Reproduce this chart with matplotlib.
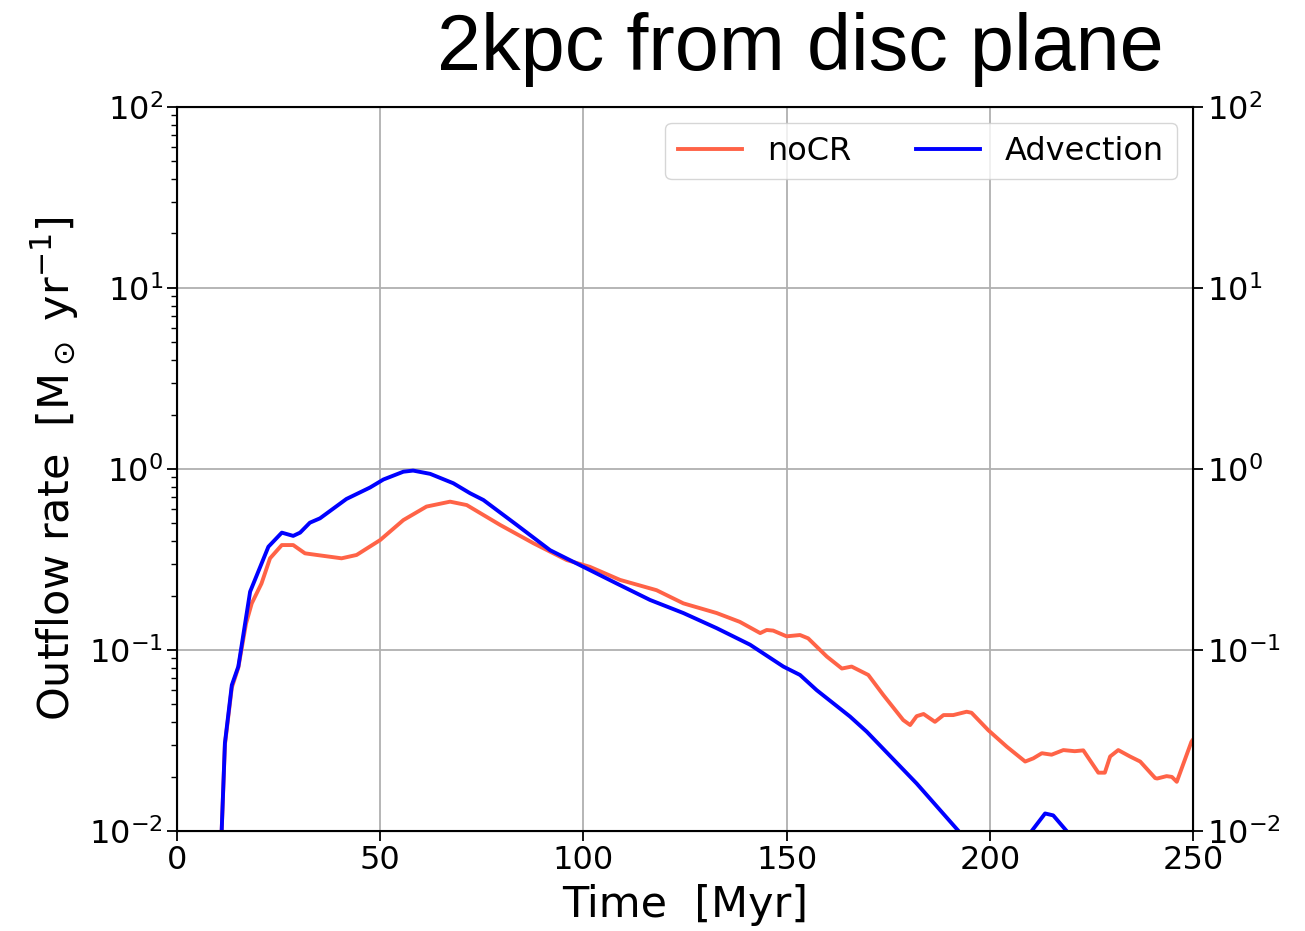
import numpy as np
import matplotlib
matplotlib.use('Agg')
import matplotlib.pyplot as plt
from matplotlib.ticker import NullLocator, LogLocator

# outflow rate through the 2 kpc surface [Msun/yr]
t_nocr = [10.5, 11.0, 11.8, 13.5, 15.1, 17.0, 18.4, 20.8, 22.9, 25.8, 28.6, 31.5,
          34.4, 40.5, 44.2, 50.0, 55.7, 61.4, 67.2, 71.3, 79.5, 87.7, 95.9, 101.6,
          109.0, 118.0, 124.6, 132.8, 138.5, 143.5, 145.1, 146.7, 150.0, 153.3,
          155.3, 159.9, 163.6, 166.0, 170.1, 173.8, 178.7, 180.4, 182.0, 183.7,
          186.5, 188.6, 191.0, 194.3, 195.5, 199.6, 204.2, 208.7, 210.7, 212.8,
          215.2, 218.1, 220.9, 223.0, 226.7, 228.3, 229.6, 231.6, 234.5, 237.0,
          240.7, 241.2, 243.5, 244.8, 246.0, 249.6, 250.0]
q_nocr = [0.006, 0.010, 0.030, 0.062, 0.080, 0.140, 0.181, 0.233, 0.321, 0.380,
          0.380, 0.342, 0.335, 0.321, 0.335, 0.405, 0.522, 0.620, 0.660, 0.632,
          0.491, 0.389, 0.314, 0.288, 0.244, 0.214, 0.181, 0.160, 0.143, 0.124,
          0.129, 0.128, 0.119, 0.121, 0.116, 0.092, 0.079, 0.081, 0.0728, 0.0564,
          0.041, 0.0385, 0.0431, 0.0443, 0.0401, 0.0437, 0.0437, 0.0456, 0.045,
          0.0361, 0.0292, 0.0242, 0.0252, 0.0269, 0.0264, 0.028, 0.0276, 0.0279,
          0.021, 0.021, 0.0258, 0.028, 0.0258, 0.0242, 0.0196, 0.0195, 0.0201,
          0.0199, 0.0187, 0.0311, 0.0320]

t_adv = [10.5, 11.0, 11.8, 13.5, 15.1, 18.0, 22.5, 25.8, 28.6, 30.3, 32.7, 35.2,
         41.7, 47.5, 50.8, 55.7, 58.1, 62.3, 68.0, 72.1, 75.4, 83.6, 91.8, 100.0,
         108.2, 116.4, 124.6, 132.8, 141.0, 149.2, 153.3, 157.4, 165.6, 169.7,
         182.0, 192.3, 196.0, 200.0, 205.0, 208.0, 210.3, 213.6, 215.6, 218.9,
         222.0, 226.0, 235.0, 250.0]
q_adv = [0.006, 0.010, 0.0306, 0.064, 0.081, 0.210, 0.372, 0.445, 0.427, 0.445,
         0.505, 0.534, 0.683, 0.790, 0.875, 0.966, 0.980, 0.940, 0.834, 0.735,
         0.674, 0.491, 0.356, 0.288, 0.233, 0.189, 0.160, 0.132, 0.107, 0.081,
         0.0728, 0.060, 0.0429, 0.0354, 0.0183, 0.010, 0.0075, 0.0055, 0.0050,
         0.0065, 0.010, 0.0125, 0.0122, 0.010, 0.0075, 0.0055, 0.0040, 0.0030]

fig = plt.figure(figsize=(13.05, 9.31), dpi=100)
ax = fig.add_axes([0.1356, 0.1074, 0.7786, 0.7777])

ax.plot(t_nocr, q_nocr, color='#ff6347', lw=2.8, label='noCR')
ax.plot(t_adv, q_adv, color='blue', lw=2.8, label='Advection')

ax.set_yscale('log')
ax.set_xlim(0, 250)
ax.set_ylim(1e-2, 1e2)
ax.grid(True, which='major', color='#b0b0b0', lw=1.3)
ax.tick_params(which='major', labelsize=23, length=7, width=1.3, pad=3)
ax.tick_params(which='minor', length=4, width=1.0)
for s in ax.spines.values():
    s.set_linewidth(1.5)

ax.set_xlabel('Time  [Myr]', fontsize=31, labelpad=6)
ax.set_ylabel(r'Outflow rate  [M$_\odot$ yr$^{-1}$]', fontsize=31, labelpad=6)

ax2 = ax.twinx()
ax2.set_yscale('log')
ax2.set_ylim(1e-2, 1e2)
ax2.yaxis.set_major_locator(LogLocator(base=10))
ax2.yaxis.set_minor_locator(NullLocator())
ax2.tick_params(labelsize=23, length=7, width=1.3, pad=3)

ax.legend(loc='upper right', ncol=2, fontsize=23, borderaxespad=0.5)

fig.text(0.613, 0.925, '2kpc from disc plane', family=['Liberation Sans', 'DejaVu Sans'],
         fontsize=57, ha='center', va='baseline')

plt.savefig('out.png', dpi=100)
